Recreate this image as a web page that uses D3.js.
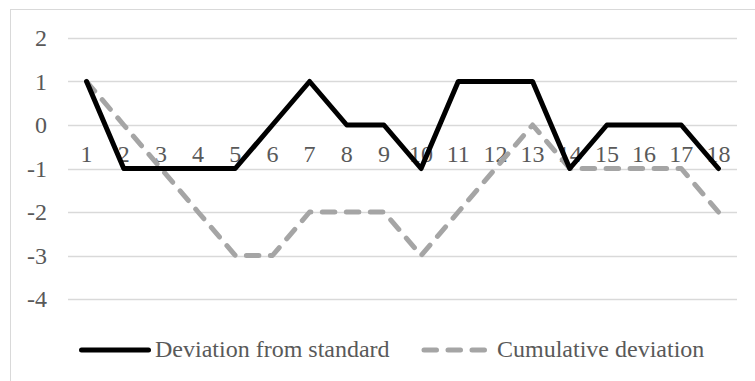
<!DOCTYPE html>
<html><head><meta charset="utf-8">
<script src="https://cdn.jsdelivr.net/npm/d3@7"></script>
<style>body{margin:0;background:#fff}svg{display:block}</style>
</head><body>
<svg id="c" width="755" height="381"></svg>
<script>
const categories = ["1","2","3","4","5","6","7","8","9","10","11","12","13","14","15","16","17","18"];
const deviation = [1,-1,-1,-1,-1,0,1,0,0,-1,1,1,1,-1,0,0,0,-1];
const cumulative = [1,0,-1,-2,-3,-3,-2,-2,-2,-3,-2,-1,0,-1,-1,-1,-1,-2];
const yTicks = [2,1,0,-1,-2,-3,-4];
const seriesNames = ["Deviation from standard","Cumulative deviation"];

const svg = d3.select("#c");
const font = "Liberation Serif";
const textColor = "#595959";
const fs = "24px";

svg.append("rect").attr("x",10.5).attr("y",9.5).attr("width",800).attr("height",400)
  .attr("fill","none").attr("stroke","#d9d9d9").attr("stroke-width",1);

const x = d3.scaleBand().domain(categories).range([68,737]);
const y = d3.scaleLinear().domain([-4,2]).range([299,38]);

svg.append("g").selectAll("line").data(yTicks).join("line")
  .attr("x1",68).attr("x2",737)
  .attr("y1",d=>Math.round(y(d))+0.5).attr("y2",d=>Math.round(y(d))+0.5)
  .attr("stroke","#d9d9d9").attr("stroke-width",1.3);

const yAxis = d3.axisLeft(y).tickValues(yTicks).tickSize(0).tickPadding(0).tickFormat(d3.format("d"));
const gy = svg.append("g").attr("transform","translate(47,0)").call(yAxis);
gy.select(".domain").remove();
gy.attr("font-family",null).attr("font-size",null);
gy.selectAll("text").style("font-family",font).style("font-size",fs).attr("fill",textColor)
  .attr("dy","0.33em").text(d=>d<0?"-"+Math.abs(d):d);

const xAxis = d3.axisBottom(x).tickSize(0).tickPadding(0);
const gx = svg.append("g").attr("transform",`translate(0,${y(0)+20})`).call(xAxis);
gx.select(".domain").remove();
gx.attr("font-family",null).attr("font-size",null);
gx.selectAll("text").style("font-family",font).style("font-size",fs).attr("fill",textColor)
  .attr("dy","0.69em");

const line = d3.line().x((d,i)=>x(categories[i])+x.bandwidth()/2).y(d=>y(d));

svg.append("path").datum(cumulative).attr("d",line)
  .attr("fill","none").attr("stroke","#a5a5a5").attr("stroke-width",5)
  .attr("stroke-dasharray","12.5,11.5").attr("stroke-linecap","round").attr("stroke-linejoin","round");
svg.append("path").datum(deviation).attr("d",line)
  .attr("fill","none").attr("stroke","#000").attr("stroke-width",5)
  .attr("stroke-linecap","round").attr("stroke-linejoin","round");

const lg = svg.append("g");
lg.append("line").attr("x1",81.5).attr("x2",148.5).attr("y1",350).attr("y2",350)
  .attr("stroke","#000").attr("stroke-width",5).attr("stroke-linecap","round");
lg.append("text").attr("x",155).attr("y",356.5).text(seriesNames[0])
  .style("font-family",font).style("font-size",fs).attr("fill",textColor);
lg.append("line").attr("x1",424).attr("x2",484.5).attr("y1",350).attr("y2",350)
  .attr("stroke","#a5a5a5").attr("stroke-width",5).attr("stroke-linecap","round")
  .attr("stroke-dasharray","12.5,11.5");
lg.append("text").attr("x",497).attr("y",356.5).text(seriesNames[1])
  .style("font-family",font).style("font-size",fs).attr("fill",textColor);
</script>
</body></html>
